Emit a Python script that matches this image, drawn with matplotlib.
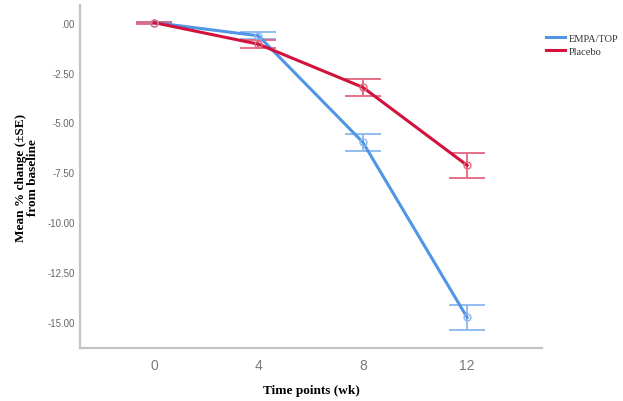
#!/usr/bin/env python3
"""Mean % change from baseline over time, EMPA/TOP vs placebo."""

import matplotlib
matplotlib.use("Agg")
import matplotlib.pyplot as plt
from matplotlib.lines import Line2D

weeks = [0, 4, 8, 12]
week_labels = ["0", "4", "8", "12"]

empa_mean = [0.0, -0.66, -5.99, -14.77]
empa_se = [0.03, 0.17, 0.42, 0.63]

placebo_mean = [0.0, -1.08, -3.24, -7.15]
placebo_se = [0.05, 0.21, 0.42, 0.63]

y_ticks = [0.0, -2.5, -5.0, -7.5, -10.0, -12.5, -15.0]

BLUE = "#5095e6"
BLUE_ERR = "#8ab8ef"
RED = "#d2123c"
RED_ERR = "#e2667f"


def fmt(v):
    # SPSS style: zero shown as ".00"
    return ".00" if v == 0 else f"{v:.2f}"


def main():
    fig = plt.figure(figsize=(6.23, 4.02), dpi=100)
    ax = fig.add_axes([0.1284, 0.1318, 0.7416, 0.8532])

    series = [
        ("EMPA/TOP", empa_mean, empa_se, BLUE, BLUE_ERR),
        ("Placebo", placebo_mean, placebo_se, RED, RED_ERR),
    ]
    for name, mean, se, col, ecol in series:
        ax.errorbar(weeks, mean, yerr=se, fmt="none", ecolor=ecol,
                    elinewidth=1.3, capsize=13, capthick=1.3, zorder=2)
        ax.plot(weeks, mean, color=col, linewidth=2.2, zorder=3)
        ax.plot(weeks, mean, linestyle="none", marker="o", markersize=5,
                markerfacecolor="none", markeredgecolor=ecol,
                markeredgewidth=1.0, zorder=4)

    ax.set_xlim(-2.84, 14.87)
    ax.set_ylim(-16.3, 0.88)
    ax.set_xticks(weeks)
    ax.set_xticklabels(week_labels, fontsize=10, color="#7a7a7a",
                       family="Liberation Sans")
    ax.set_yticks(y_ticks)
    ax.set_yticklabels([fmt(v) for v in y_ticks], fontsize=7,
                       color="#666666", family="Liberation Sans")
    ax.tick_params(length=0)
    ax.tick_params(axis="x", pad=7)
    ax.tick_params(axis="y", pad=4)

    for side in ("top", "right"):
        ax.spines[side].set_visible(False)
    for side in ("left", "bottom"):
        ax.spines[side].set_color("#c4c4c4")
        ax.spines[side].set_linewidth(1.6)

    ax.set_xlabel("Time points (wk)", family="Liberation Serif",
                  fontweight="bold", fontsize=9.5, labelpad=9)
    ax.set_ylabel("Mean % change (\u00b1SE)\nfrom baseline",
                  family="Liberation Serif", fontweight="bold",
                  fontsize=9.5, linespacing=1.0, labelpad=6)

    handles = [Line2D([], [], color=c, linewidth=2.2) for _, _, _, c, _ in series]
    fig.legend(handles, [s[0] for s in series], loc="upper left",
               bbox_to_anchor=(0.869, 0.925), frameon=False,
               prop={"family": "Liberation Serif", "size": 7.5},
               handlelength=1.9, handletextpad=0.3, labelspacing=0.4,
               labelcolor="#333333", borderaxespad=0)

    fig.savefig("out.png", dpi=100)
    plt.close(fig)


if __name__ == "__main__":
    main()
